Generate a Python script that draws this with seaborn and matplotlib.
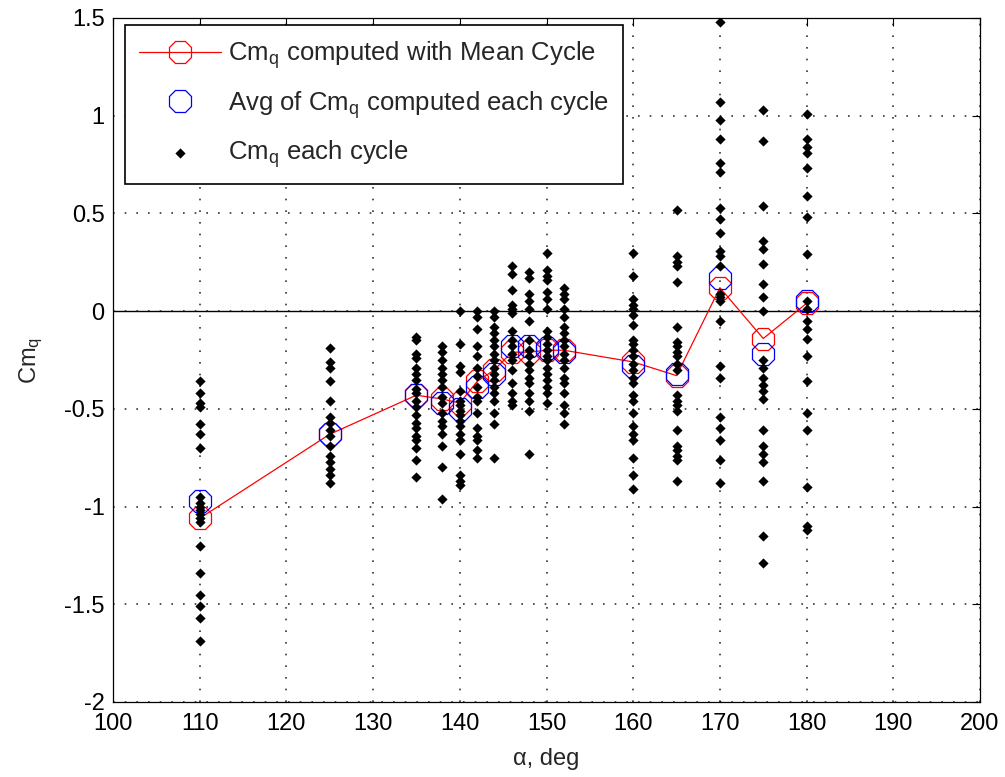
import numpy as np
import pandas as pd
import matplotlib
matplotlib.use('Agg')
import matplotlib.pyplot as plt
import seaborn as sns

# angles of attack (deg) where Cmq was computed
alpha = [110, 125, 135, 138, 140, 142, 144, 146, 148, 150, 152, 160, 165, 170, 175, 180]

# Cmq computed from the mean cycle
cmq_mean_cycle = [-1.06, -0.63, -0.43, -0.45, -0.47, -0.36, -0.30, -0.21, -0.21, -0.20,
                  -0.20, -0.26, -0.33, 0.12, -0.14, 0.04]

# average of the Cmq computed for each cycle
cmq_avg_cycles = [-0.97, -0.63, -0.43, -0.47, -0.50, -0.39, -0.32, -0.18, -0.18, -0.19,
                  -0.21, -0.28, -0.32, 0.17, -0.22, 0.05]

# Cmq of each single cycle, one list per angle
cmq_110 = [-0.36, -0.42, -0.47, -0.49, -0.58, -0.63, -0.70, -0.95, -0.98, -1.00, -1.02,
           -1.04, -1.06, -1.08, -1.20, -1.34, -1.45, -1.51, -1.57, -1.69]
cmq_125 = [-0.19, -0.26, -0.29, -0.36, -0.46, -0.54, -0.57, -0.61, -0.64, -0.69, -0.74,
           -0.77, -0.81, -0.84, -0.88]
cmq_135 = [-0.13, -0.15, -0.22, -0.24, -0.29, -0.32, -0.35, -0.40, -0.42, -0.46, -0.49,
           -0.53, -0.57, -0.60, -0.64, -0.66, -0.70, -0.76, -0.85]
cmq_138 = [-0.18, -0.21, -0.25, -0.29, -0.32, -0.35, -0.39, -0.44, -0.47, -0.52, -0.56,
           -0.59, -0.63, -0.69, -0.80, -0.96]
cmq_140 = [0.00, -0.17, -0.28, -0.31, -0.41, -0.46, -0.48, -0.51, -0.53, -0.56, -0.59,
           -0.63, -0.66, -0.73, -0.84, -0.87, -0.89]
cmq_142 = [0.00, -0.03, -0.09, -0.18, -0.23, -0.29, -0.33, -0.39, -0.44, -0.46, -0.52,
           -0.60, -0.64, -0.66, -0.71, -0.75]
cmq_144 = [0.00, -0.03, -0.08, -0.11, -0.15, -0.18, -0.22, -0.25, -0.29, -0.32, -0.35,
           -0.39, -0.42, -0.46, -0.52, -0.58, -0.75]
cmq_146 = [0.23, 0.19, 0.11, 0.03, 0.01, -0.01, -0.10, -0.15, -0.18, -0.22, -0.25,
           -0.30, -0.37, -0.42, -0.46, -0.48]
cmq_148 = [0.20, 0.17, 0.09, 0.05, 0.01, -0.05, -0.15, -0.20, -0.23, -0.27, -0.30,
           -0.34, -0.37, -0.42, -0.46, -0.51, -0.73]
cmq_150 = [0.30, 0.21, 0.18, 0.16, 0.10, 0.06, 0.01, -0.10, -0.13, -0.17, -0.20,
           -0.23, -0.25, -0.29, -0.32, -0.35, -0.39, -0.42, -0.47]
cmq_152 = [0.12, 0.09, 0.06, 0.01, -0.03, -0.08, -0.11, -0.15, -0.18, -0.22, -0.25,
           -0.29, -0.34, -0.37, -0.42, -0.48, -0.52, -0.58]
cmq_160 = [0.30, 0.18, 0.06, 0.03, 0.01, -0.02, -0.07, -0.15, -0.17, -0.20, -0.23,
           -0.27, -0.30, -0.34, -0.37, -0.43, -0.46, -0.52, -0.59, -0.63, -0.66,
           -0.75, -0.84, -0.91]
cmq_165 = [0.52, 0.28, 0.25, 0.23, 0.15, -0.08, -0.16, -0.18, -0.21, -0.23, -0.27,
           -0.30, -0.43, -0.46, -0.48, -0.51, -0.61, -0.69, -0.71, -0.74, -0.76, -0.87]
cmq_170 = [1.48, 1.07, 0.98, 0.88, 0.76, 0.71, 0.53, 0.47, 0.40, 0.31, 0.28, 0.23,
           0.09, 0.07, 0.05, -0.05, -0.28, -0.34, -0.54, -0.60, -0.66, -0.76, -0.88]
cmq_175 = [1.03, 0.87, 0.54, 0.36, 0.32, 0.24, 0.14, 0.07, 0.00, -0.25, -0.29, -0.34,
           -0.38, -0.41, -0.45, -0.61, -0.69, -0.73, -0.77, -0.87, -1.15, -1.29]
cmq_180 = [1.01, 0.88, 0.84, 0.81, 0.73, 0.59, 0.48, 0.29, 0.05, 0.01, -0.05, -0.09,
           -0.14, -0.23, -0.36, -0.52, -0.61, -0.90, -1.10, -1.12]

per_cycle = [cmq_110, cmq_125, cmq_135, cmq_138, cmq_140, cmq_142, cmq_144, cmq_146,
             cmq_148, cmq_150, cmq_152, cmq_160, cmq_165, cmq_170, cmq_175, cmq_180]

cycles = pd.DataFrame({
    'alpha': np.concatenate([[a] * len(v) for a, v in zip(alpha, per_cycle)]),
    'cmq': np.concatenate(per_cycle),
})
means = pd.DataFrame({'alpha': alpha, 'mean_cycle': cmq_mean_cycle, 'avg': cmq_avg_cycles})

sns.set_style('white')
plt.rcParams['font.family'] = ['Liberation Sans', 'DejaVu Sans']
plt.rcParams['mathtext.default'] = 'regular'
plt.rcParams['axes.unicode_minus'] = False
fs = 17

fig = plt.figure(figsize=(10.05, 7.77), dpi=100)
ax = fig.add_axes([113 / 1005, 1 - 702 / 777, 867 / 1005, 684 / 777])

sns.lineplot(data=means, x='alpha', y='mean_cycle', ax=ax, color='red', lw=0.9,
             marker='8', markersize=17, markerfacecolor='none', markeredgecolor='red',
             markeredgewidth=0.9, label='Cm$_q$ computed with Mean Cycle')
sns.lineplot(data=means, x='alpha', y='avg', ax=ax, linestyle='', marker='8',
             markersize=17, markerfacecolor='none', markeredgecolor='blue',
             markeredgewidth=0.9, label='Avg of Cm$_q$ computed each cycle')
sns.scatterplot(data=cycles, x='alpha', y='cmq', ax=ax, marker='D', s=27, color='black',
                linewidth=0, label='Cm$_q$ each cycle', zorder=5)

ax.axhline(0, color='black', lw=1, zorder=1)

ax.set_xlim(100, 200)
ax.set_ylim(-2, 1.5)
xt = np.arange(100, 201, 10)
yt = np.arange(-2, 1.51, 0.5)
ax.set_xticks(xt)
ax.set_yticks(yt)
ax.set_xticklabels([f'{v:g}' for v in xt])
ax.set_yticklabels([f'{v:g}' for v in yt])
ax.grid(True, color='black', linestyle=(0, (1, 6)), lw=1.2, alpha=0.8)
ax.tick_params(direction='in', length=6, width=0.8, top=True, right=True,
               labelsize=fs, colors='black')
ax.tick_params(axis='x', pad=8)
ax.tick_params(axis='y', pad=6)
for s in ax.spines.values():
    s.set_visible(True)
    s.set_color('black')
    s.set_linewidth(0.9)

ax.set_xlabel('α, deg', fontsize=fs, labelpad=9)
ax.set_ylabel('Cm$_q$', fontsize=fs, labelpad=14)

leg = ax.legend(loc='upper left', bbox_to_anchor=(12 / 867, 1 - 7 / 684), borderaxespad=0,
                prop={'size': 18.5}, frameon=True, fancybox=False, framealpha=1,
                edgecolor='black', handlelength=3.2, handletextpad=0.25,
                labelspacing=0.7, borderpad=0.55)
leg.get_frame().set_linewidth(1.2)

fig.savefig('out.png', dpi=100, facecolor='white')
